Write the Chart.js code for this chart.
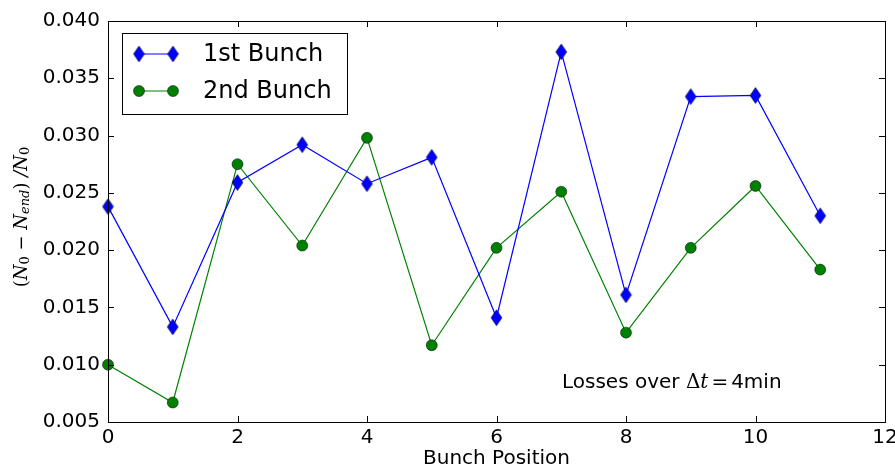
<!DOCTYPE html>
<html>
<head>
<meta charset="utf-8">
<script src="https://cdn.jsdelivr.net/npm/chart.js@4.4.0/dist/chart.umd.min.js"></script>
<style>
  html, body { margin: 0; padding: 0; background: #fff; }
  #wrap { width: 895px; height: 475px; }
</style>
</head>
<body>
<div id="wrap"><canvas id="chart" width="895" height="475"></canvas></div>
<script>
// bunch positions
const positions = [0, 1, 2, 3, 4, 5, 6, 7, 8, 9, 10, 11]
// relative losses
const bunch1 = [0.0238, 0.0133, 0.0259, 0.0292, 0.0258, 0.0281, 0.0141, 0.0373, 0.0161, 0.0334, 0.0335, 0.0230]
const bunch2 = [0.0100, 0.0067, 0.0275, 0.0204, 0.0298, 0.0117, 0.0202, 0.0251, 0.0128, 0.0202, 0.0256, 0.0183]
const seriesNames = ['1st Bunch', '2nd Bunch']
const xTicks = [0, 2, 4, 6, 8, 10, 12]
const yTicks = [0.005, 0.010, 0.015, 0.020, 0.025, 0.030, 0.035, 0.040]

const font = '"DejaVu Sans", sans-serif'

// thin diamond marker (matplotlib 'd')
function diamond(w, h) {
  const c = document.createElement('canvas')
  c.width = w + 2
  c.height = h + 2
  const g = c.getContext('2d')
  g.beginPath()
  g.moveTo(c.width / 2, 1)
  g.lineTo(c.width - 1, c.height / 2)
  g.lineTo(c.width / 2, c.height - 1)
  g.lineTo(1, c.height / 2)
  g.closePath()
  g.fillStyle = '#0000ff'
  g.fill()
  g.lineWidth = 0.5
  g.strokeStyle = '#000'
  g.stroke()
  return c
}
const diamondImg = diamond(11, 16)

// ticks pointing inwards on all sides, frame, legend, notes
const decor = {
  id: 'decor',
  afterDraw(chart) {
    const { ctx, chartArea: a, scales } = chart
    ctx.save()
    ctx.strokeStyle = '#000'
    ctx.lineWidth = 1
    ctx.strokeRect(a.left + 0.5, a.top + 0.5, a.right - a.left, a.bottom - a.top)
    ctx.beginPath()
    xTicks.forEach((v) => {
      const px = Math.round(scales.x.getPixelForValue(v)) + 0.5
      ctx.moveTo(px, a.bottom); ctx.lineTo(px, a.bottom - 6)
      ctx.moveTo(px, a.top); ctx.lineTo(px, a.top + 6)
    })
    yTicks.forEach((v) => {
      const py = Math.round(scales.y.getPixelForValue(v)) + 0.5
      ctx.moveTo(a.left, py); ctx.lineTo(a.left + 6, py)
      ctx.moveTo(a.right, py); ctx.lineTo(a.right - 6, py)
    })
    ctx.stroke()

    // legend
    const lx = 122, ly = 33, lw = 225, lh = 81
    ctx.fillStyle = '#fff'
    ctx.fillRect(lx, ly, lw, lh)
    ctx.strokeRect(lx + 0.5, ly + 0.5, lw, lh)
    const rows = [
      { y: 54, color: '#0000ff', kind: 'd' },
      { y: 91, color: '#008000', kind: 'o' },
    ]
    rows.forEach((r, i) => {
      ctx.strokeStyle = r.color
      ctx.lineWidth = 1.2
      ctx.beginPath(); ctx.moveTo(139, r.y); ctx.lineTo(173, r.y); ctx.stroke()
      ;[139, 173].forEach((mx) => {
        if (r.kind === 'd') {
          ctx.drawImage(diamondImg, mx - diamondImg.width / 2, r.y - diamondImg.height / 2)
        } else {
          ctx.beginPath(); ctx.arc(mx, r.y, 5.5, 0, Math.PI * 2)
          ctx.fillStyle = r.color; ctx.fill()
          ctx.strokeStyle = '#000'; ctx.lineWidth = 0.5; ctx.stroke()
        }
      })
      ctx.fillStyle = '#000'
      ctx.font = '24px ' + font
      ctx.textBaseline = 'middle'
      ctx.textAlign = 'left'
      ctx.fillText(seriesNames[i], 203, r.y + 1)
    })

    // annotation
    ctx.fillStyle = '#000'
    ctx.textBaseline = 'alphabetic'
    let x = 562
    const by = 388
    ctx.font = '20px ' + font
    ctx.fillText('Losses over ', x, by); x += ctx.measureText('Losses over ').width
    ctx.font = '20px "DejaVu Serif", serif'
    ctx.fillText('\u0394', x, by); x += ctx.measureText('\u0394').width
    ctx.font = 'italic 20px "DejaVu Serif", serif'
    ctx.fillText('t', x, by); x += ctx.measureText('t').width + 3
    ctx.font = '20px ' + font
    ctx.fillText('=', x, by); x += ctx.measureText('=').width + 3
    ctx.fillText('4min', x, by)

    // y label (N0 - Nend)/N0, rotated
    ctx.translate(22, 217)
    ctx.rotate(-Math.PI / 2)
    const parts = [
      ['(', '18px "DejaVu Serif", serif', 0],
      ['N', 'italic 18px "DejaVu Serif", serif', 0],
      ['0', '13px "DejaVu Serif", serif', 4],
      [' \u2212 ', '18px "DejaVu Serif", serif', 0],
      ['N', 'italic 18px "DejaVu Serif", serif', 0],
      ['end', 'italic 13px "DejaVu Serif", serif', 4],
      [')', '18px "DejaVu Serif", serif', 0],
      [' /', 'italic 18px "DejaVu Serif", serif', 0],
      ['N', 'italic 18px "DejaVu Serif", serif', 0],
      ['0', '13px "DejaVu Serif", serif', 4],
    ]
    let total = 0
    parts.forEach((p) => { ctx.font = p[1]; total += ctx.measureText(p[0]).width })
    let tx = -total / 2
    ctx.fillStyle = '#000'
    ctx.textBaseline = 'middle'
    parts.forEach((p) => {
      ctx.font = p[1]
      ctx.fillText(p[0], tx, p[2])
      tx += ctx.measureText(p[0]).width
    })
    ctx.restore()
  },
}

const ctx = document.getElementById('chart').getContext('2d')
const chart = new Chart(ctx, {
  type: 'line',
  data: {
    datasets: [
      {
        label: seriesNames[0],
        data: positions.map((p, i) => ({ x: p, y: bunch1[i] })),
        borderColor: '#0000ff',
        borderWidth: 1.2,
        pointStyle: diamondImg,
        pointRadius: 8,
        tension: 0,
        clip: false,
      },
      {
        label: seriesNames[1],
        data: positions.map((p, i) => ({ x: p, y: bunch2[i] })),
        borderColor: '#008000',
        backgroundColor: '#008000',
        pointBorderColor: '#000',
        pointBorderWidth: 0.5,
        borderWidth: 1.2,
        pointStyle: 'circle',
        pointRadius: 5.5,
        tension: 0,
        clip: false,
      },
    ],
  },
  options: {
    responsive: false,
    animation: false,
    layout: { padding: { top: 21, right: 10, left: 0, bottom: 0 } },
    plugins: { legend: { display: false }, tooltip: { enabled: false } },
    scales: {
      x: {
        type: 'linear',
        min: 0,
        max: 12,
        afterBuildTicks: (s) => { s.ticks = xTicks.map((v) => ({ value: v })) },
        afterFit: (s) => { s.height = 53; s.paddingRight = 0; s.paddingLeft = 0 },
        grid: { display: false, drawTicks: false },
        border: { display: false },
        ticks: { color: '#000', font: { family: font, size: 20 }, padding: 4, maxRotation: 0 },
        title: { display: true, text: 'Bunch Position', color: '#000', font: { family: font, size: 20 }, padding: { top: 0 } },
      },
      y: {
        min: 0.005,
        max: 0.040,
        afterBuildTicks: (s) => { s.ticks = yTicks.map((v) => ({ value: v })) },
        afterFit: (s) => { s.width = 108 },
        grid: { display: false, drawTicks: false },
        border: { display: false },
        ticks: { color: '#000', font: { family: font, size: 20 }, padding: 8, callback: (v) => v.toFixed(3) },
      },
    },
  },
  plugins: [decor],
})
</script>
</body>
</html>
